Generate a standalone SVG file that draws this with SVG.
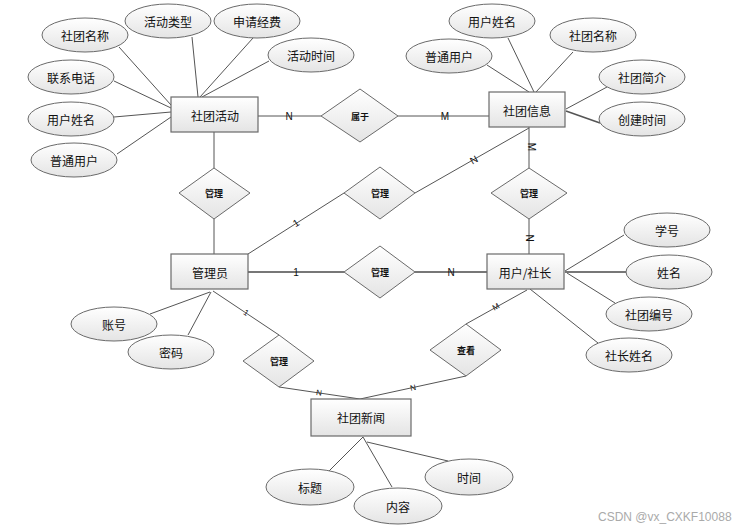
<svg xmlns="http://www.w3.org/2000/svg" width="746" height="530" viewBox="0 0 746 530">
<defs>
<linearGradient id="g" x1="0" y1="0" x2="0" y2="1">
<stop offset="0" stop-color="#ffffff"/>
<stop offset="1" stop-color="#e4e4e4"/>
</linearGradient>
<style>
.e{fill:url(#g);stroke:#6a6a6a;stroke-width:1}
.r{fill:url(#g);stroke:#6a6a6a;stroke-width:1.2}
.d{fill:url(#g);stroke:#6a6a6a;stroke-width:1}
.t{font-family:"Noto Sans CJK SC","Liberation Sans",sans-serif;font-size:12px;fill:#111;text-anchor:middle;dominant-baseline:central}
.td{font-family:"Noto Sans CJK SC","Liberation Sans",sans-serif;font-size:9px;font-weight:bold;fill:#111;text-anchor:middle;dominant-baseline:central}
.c{font-family:"Liberation Sans",sans-serif;font-size:10px;fill:#111;text-anchor:middle;dominant-baseline:central}
.cs{font-family:"Liberation Sans",sans-serif;font-size:8px;fill:#111;text-anchor:middle;dominant-baseline:central}
.l{stroke:#555;stroke-width:1;fill:none}
.lt{stroke:#777;stroke-width:2;fill:none}
.wm{font-family:"Liberation Sans",sans-serif;font-size:12px;fill:#aaa}
</style>
</defs>
<rect width="746" height="530" fill="#fff"/>
<g id="connectors">
<line class="l" x1="119" y1="47" x2="171" y2="105"/>
<line class="l" x1="192" y1="37" x2="198" y2="97"/>
<line class="l" x1="253" y1="38" x2="200" y2="97"/>
<line class="l" x1="269" y1="61" x2="202" y2="97"/>
<line class="l" x1="114" y1="81" x2="171" y2="108"/>
<line class="l" x1="114" y1="117" x2="171" y2="112"/>
<line class="l" x1="117" y1="154" x2="171" y2="117"/>
<line class="l" x1="258" y1="116" x2="321" y2="116"/>
<line class="l" x1="398" y1="116" x2="489" y2="116"/>
<line class="l" x1="487" y1="65" x2="529" y2="92"/>
<line class="l" x1="508" y1="38" x2="534" y2="92"/>
<line class="l" x1="573" y1="52" x2="536" y2="92"/>
<line class="l" x1="607" y1="87" x2="566" y2="109"/>
<line class="l" x1="600" y1="123" x2="566" y2="111" style="stroke-width:1.6"/>
<line class="l" x1="529" y1="127" x2="529" y2="168"/>
<line class="l" x1="529" y1="128" x2="415" y2="193"/>
<line class="l" x1="214" y1="132" x2="214" y2="168"/>
<line class="l" x1="214" y1="219" x2="214" y2="254"/>
<line class="l" x1="248" y1="254" x2="344" y2="193"/>
<line class="lt" x1="248" y1="272" x2="344" y2="272"/>
<line class="lt" x1="415" y1="272" x2="487" y2="272"/>
<line class="l" x1="529" y1="219" x2="529" y2="254"/>
<line class="l" x1="565" y1="271" x2="624" y2="235"/>
<line class="lt" x1="565" y1="272" x2="627" y2="272"/>
<line class="l" x1="567" y1="273" x2="615" y2="303"/>
<line class="l" x1="530" y1="289" x2="598" y2="343"/>
<line class="l" x1="527" y1="290" x2="466" y2="324"/>
<line class="l" x1="466" y1="376" x2="360" y2="399"/>
<line class="l" x1="279" y1="387" x2="360" y2="399"/>
<line class="l" x1="213" y1="291" x2="279" y2="335"/>
<line class="l" x1="150" y1="314" x2="210" y2="292"/>
<line class="l" x1="188" y1="335" x2="211" y2="292"/>
<line class="l" x1="329" y1="471" x2="363" y2="437"/>
<line class="l" x1="392" y1="487" x2="363" y2="437"/>
<line class="l" x1="448" y1="461" x2="367" y2="442"/>
<text class="c" x="289" y="116">N</text>
<text class="c" x="445" y="116">M</text>
<text class="c" transform="translate(531,147) rotate(90)">M</text>
<text class="c" transform="translate(474,160) rotate(-30)">N</text>
<text class="c" transform="translate(296,223) rotate(-32)">1</text>
<text class="c" x="296" y="272">1</text>
<text class="c" x="451" y="272">N</text>
<text class="c" transform="translate(529,238) rotate(90)">N</text>
<text class="cs" transform="translate(246,313) rotate(34)">1</text>
<text class="cs" transform="translate(496,307) rotate(-29)">M</text>
<text class="cs" transform="translate(319,393) rotate(8)">N</text>
<text class="cs" transform="translate(413,388) rotate(-12)">N</text>
</g>
<g id="e-shetuanhuodong"><rect class="r" x="171" y="97" width="87" height="35"/><text class="t" x="215" y="115">社团活动</text></g>
<g id="a-shetuanmingcheng1"><ellipse class="e" cx="85" cy="35" rx="43" ry="17"/><text class="t" x="85" y="35">社团名称</text></g>
<g id="a-huodongleixing"><ellipse class="e" cx="168" cy="21" rx="43" ry="17"/><text class="t" x="168" y="21">活动类型</text></g>
<g id="a-shenqingjingfei"><ellipse class="e" cx="257" cy="21" rx="43" ry="17"/><text class="t" x="257" y="21">申请经费</text></g>
<g id="a-huodongshijian"><ellipse class="e" cx="311" cy="55" rx="43" ry="17"/><text class="t" x="311" y="55">活动时间</text></g>
<g id="a-lianxidianhua"><ellipse class="e" cx="71" cy="77" rx="43" ry="17"/><text class="t" x="71" y="77">联系电话</text></g>
<g id="a-yonghuxingming1"><ellipse class="e" cx="71" cy="119" rx="43" ry="17"/><text class="t" x="71" y="119">用户姓名</text></g>
<g id="a-putongyonghu1"><ellipse class="e" cx="74" cy="160" rx="43" ry="17"/><text class="t" x="74" y="160">普通用户</text></g>
<g id="r-shuyu"><polygon class="d" points="321,116 360,89 398,116 360,142"/><text class="td" x="360" y="116">属于</text></g>
<g id="e-shetuanxinxi"><rect class="r" x="489" y="92" width="76" height="35"/><text class="t" x="527" y="110">社团信息</text></g>
<g id="a-yonghuxingming2"><ellipse class="e" cx="492" cy="21" rx="43" ry="17"/><text class="t" x="492" y="21">用户姓名</text></g>
<g id="a-shetuanmingcheng2"><ellipse class="e" cx="593" cy="35" rx="43" ry="17"/><text class="t" x="593" y="35">社团名称</text></g>
<g id="a-putongyonghu2"><ellipse class="e" cx="449" cy="56" rx="43" ry="17"/><text class="t" x="449" y="56">普通用户</text></g>
<g id="a-shetuanjianjie"><ellipse class="e" cx="642" cy="77" rx="43" ry="17"/><text class="t" x="642" y="77">社团简介</text></g>
<g id="a-chuangjianshijian"><ellipse class="e" cx="642" cy="119" rx="43" ry="17"/><text class="t" x="642" y="119">创建时间</text></g>
<g id="r-guanli1"><polygon class="d" points="179,193 214,168 250,193 214,219"/><text class="td" x="214" y="193">管理</text></g>
<g id="r-guanli2"><polygon class="d" points="344,193 380,167 415,193 380,219"/><text class="td" x="380" y="193">管理</text></g>
<g id="r-guanli3"><polygon class="d" points="491,193 529,168 567,193 529,219"/><text class="td" x="529" y="193">管理</text></g>
<g id="e-guanliyuan"><rect class="r" x="171" y="254" width="77" height="35"/><text class="t" x="210" y="272">管理员</text></g>
<g id="r-guanli4"><polygon class="d" points="344,272 380,246 415,272 380,298"/><text class="td" x="380" y="272">管理</text></g>
<g id="e-yonghushezhang"><rect class="r" x="487" y="254" width="77" height="35"/><text class="t" x="525" y="272">用户/社长</text></g>
<g id="a-xuehao"><ellipse class="e" cx="667" cy="230" rx="43" ry="17"/><text class="t" x="667" y="230">学号</text></g>
<g id="a-xingming"><ellipse class="e" cx="669" cy="272" rx="43" ry="17"/><text class="t" x="669" y="272">姓名</text></g>
<g id="a-shetuanbianhao"><ellipse class="e" cx="649" cy="314" rx="43" ry="17"/><text class="t" x="649" y="314">社团编号</text></g>
<g id="a-shezhangxingming"><ellipse class="e" cx="629" cy="355" rx="43" ry="17"/><text class="t" x="629" y="355">社长姓名</text></g>
<g id="a-zhanghao"><ellipse class="e" cx="114" cy="324" rx="43" ry="17"/><text class="t" x="114" y="324">账号</text></g>
<g id="a-mima"><ellipse class="e" cx="171" cy="352" rx="43" ry="17"/><text class="t" x="171" y="352">密码</text></g>
<g id="r-guanli5"><polygon class="d" points="243,361 279,335 314,361 279,387"/><text class="td" x="279" y="361">管理</text></g>
<g id="r-chakan"><polygon class="d" points="430,350 466,324 501,350 466,376"/><text class="td" x="466" y="350">查看</text></g>
<g id="e-shetuanxinwen"><rect class="r" x="311" y="399" width="100" height="37"/><text class="t" x="361" y="417">社团新闻</text></g>
<g id="a-biaoti"><ellipse class="e" cx="310" cy="487" rx="44" ry="18"/><text class="t" x="310" y="487">标题</text></g>
<g id="a-neirong"><ellipse class="e" cx="398" cy="506" rx="44" ry="18"/><text class="t" x="398" y="506">内容</text></g>
<g id="a-shijian"><ellipse class="e" cx="469" cy="477" rx="44" ry="18"/><text class="t" x="469" y="477">时间</text></g>
<text class="wm" x="598" y="521">CSDN @vx_CXKF10088</text>
</svg>
